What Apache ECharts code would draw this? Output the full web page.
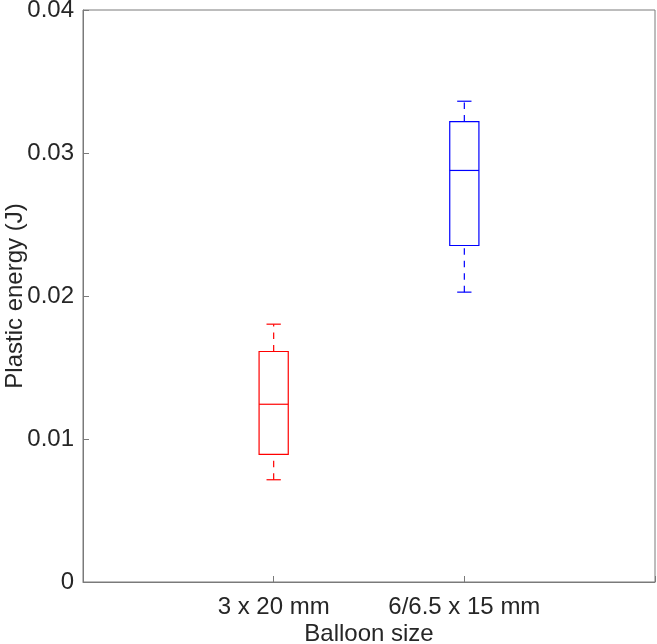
<!DOCTYPE html>
<html><head><meta charset="utf-8">
<script src="https://cdn.jsdelivr.net/npm/echarts@6/dist/echarts.min.js"></script>
<style>html,body{margin:0;padding:0;background:#fff}#c{width:657px;height:644px}</style>
</head><body><div id="c"></div>
<script>
const categories = ['3 x 20 mm', '6/6.5 x 15 mm'];
const positions = [1, 2];
const whiskerLow = [0.00715, 0.02027];
const q1 = [0.00892, 0.02353];
const median = [0.01243, 0.02878];
const q3 = [0.01612, 0.03220];
const whiskerHigh = [0.01803, 0.03362];
const yTicks = [0, 0.01, 0.02, 0.03, 0.04];
const colors = ['#ff0000', '#0000ff'];

const FONT = "'Liberation Sans', Arial, Helvetica, sans-serif";
const TXT = '#262626';
const AX = '#7a7a7a';
const BOX_W = 0.153; // in x data units
const CAP_W = 0.075;

const data = positions.map((p, i) => [p, whiskerLow[i], q1[i], median[i], q3[i], whiskerHigh[i], i]);

const chart = echarts.init(document.getElementById('c'), null, {renderer: 'canvas'});
chart.setOption({
  animation: false,
  backgroundColor: '#fff',
  grid: {left: 83, right: 2, top: 10, bottom: 62, containLabel: false, outerBoundsMode: 'none',
         show: true, borderColor: AX, borderWidth: 1, backgroundColor: 'transparent'},
  xAxis: {
    type: 'value', min: 0, max: 3, interval: 1,
    name: 'Balloon size', nameLocation: 'middle', nameGap: 40, nameMoveOverlap: false,
    nameTextStyle: {fontFamily: FONT, fontSize: 24, color: TXT},
    axisLine: {show: true, lineStyle: {color: AX, width: 1}},
    axisTick: {show: true, inside: true, length: 6, lineStyle: {color: AX}},
    axisLabel: {
      margin: 13, fontFamily: FONT, fontSize: 24, color: TXT,
      formatter: v => { const k = positions.indexOf(v); return k >= 0 ? categories[k] : ''; }
    },
    splitLine: {show: false}
  },
  yAxis: {
    type: 'value', min: 0, max: 0.04, interval: 0.01,
    name: 'Plastic energy (J)', nameLocation: 'middle', nameGap: 56, nameMoveOverlap: false,
    nameTextStyle: {fontFamily: FONT, fontSize: 24, color: TXT},
    axisLine: {show: true, lineStyle: {color: AX, width: 1}},
    axisTick: {show: true, inside: true, length: 6, lineStyle: {color: AX}},
    axisLabel: {
      margin: 9, fontFamily: FONT, fontSize: 24, color: TXT,
      formatter: v => { const k = yTicks.findIndex(t => Math.abs(t - v) < 1e-9); return k >= 0 ? String(yTicks[k]) : ''; }
    },
    splitLine: {show: false}
  },
  series: [{
    type: 'custom',
    data: data,
    encode: {x: 0, y: [1, 2, 3, 4, 5]},
    renderItem: function (params, api) {
      const x = api.value(0);
      const c = colors[api.value(6)];
      const hw = api.size([BOX_W, 0])[0] / 2;
      const cw = api.size([CAP_W, 0])[0] / 2;
      const pLow = api.coord([x, api.value(1)]);
      const pQ1 = api.coord([x, api.value(2)]);
      const pMed = api.coord([x, api.value(3)]);
      const pQ3 = api.coord([x, api.value(4)]);
      const pHigh = api.coord([x, api.value(5)]);
      const cx = pQ1[0];
      const solid = {stroke: c, lineWidth: 1.2, fill: null};
      const dashed = {stroke: c, lineWidth: 1.2, lineDash: [6.5, 6], fill: null};
      return {
        type: 'group',
        children: [
          {type: 'line', shape: {x1: cx, y1: pLow[1], x2: cx, y2: pQ1[1]}, style: dashed},
          {type: 'line', shape: {x1: cx, y1: pQ3[1], x2: cx, y2: pHigh[1]}, style: dashed},
          {type: 'line', shape: {x1: cx - cw, y1: pLow[1], x2: cx + cw, y2: pLow[1]}, style: solid},
          {type: 'line', shape: {x1: cx - cw, y1: pHigh[1], x2: cx + cw, y2: pHigh[1]}, style: solid},
          {type: 'rect', shape: {x: cx - hw, y: pQ3[1], width: 2 * hw, height: pQ1[1] - pQ3[1]}, style: solid},
          {type: 'line', shape: {x1: cx - hw, y1: pMed[1], x2: cx + hw, y2: pMed[1]}, style: solid}
        ]
      };
    }
  }]
});
</script></body></html>
